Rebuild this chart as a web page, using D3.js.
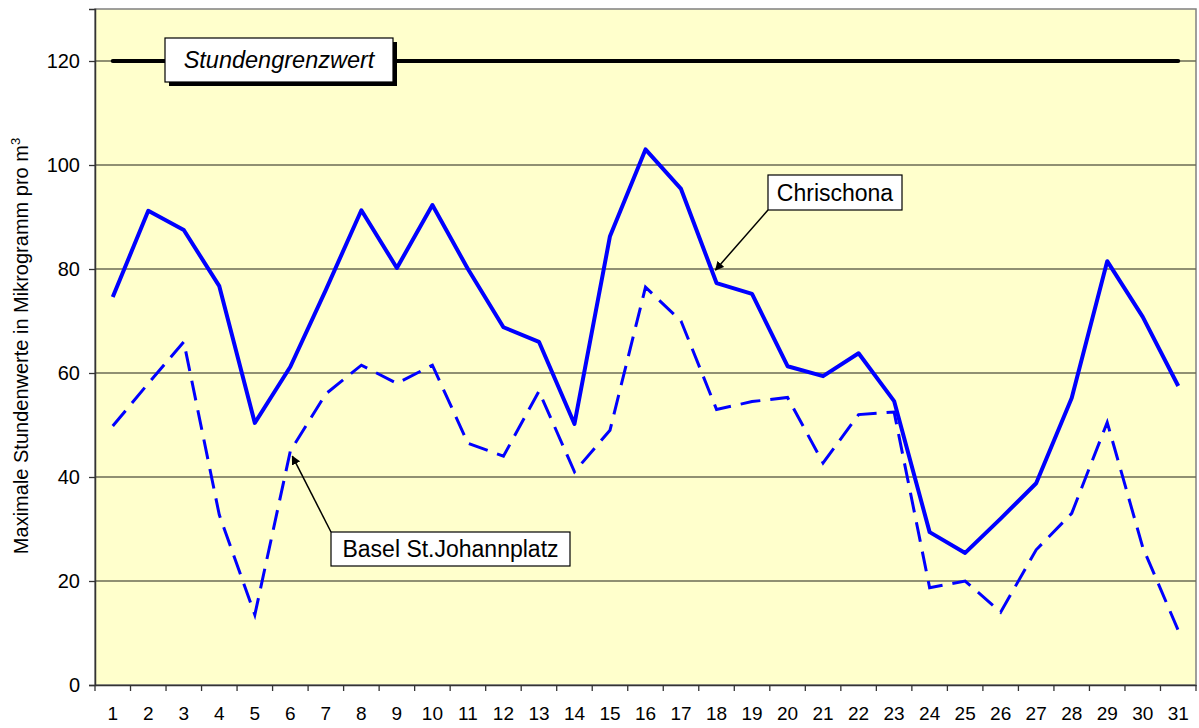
<!DOCTYPE html>
<html>
<head>
<meta charset="utf-8">
<script src="https://cdn.jsdelivr.net/npm/d3@7"></script>
<style>
  body { margin: 0; background: #fff; }
  text { font-family: "Liberation Sans", Arial, sans-serif; }
</style>
</head>
<body>
<script>
// data
let days = d3.range(1, 32)
let chrischona = [74.6, 91.2, 87.5, 76.7, 50.4, 61.2, 76, 91.3, 80.2, 92.3, 80, 68.8, 66, 50.2, 86.3, 103,
  95.4, 77.3, 75.2, 61.3, 59.4, 63.8, 54.6, 29.4, 25.4, 32, 38.8, 55.2, 81.5, 70.8, 57.5]
let johannplatz = [49.8, 58, 66, 32.7, 13.5, 45, 56, 61.5, 58, 61.5, 46.5, 44, 56.5, 41, 49, 76.5,
  70, 53, 54.5, 55.3, 42.7, 52, 52.5, 18.7, 20, 14, 26, 33, 50.5, 26.5, 10.5]
let grenzwert = 120
let yTicks = [0, 20, 40, 60, 80, 100, 120]

let width = 1199, height = 728
let margin = {left: 95, right: 3, top: 9, bottom: 43}

let svg = d3.select("body").append("svg")
  .attr("width", width)
  .attr("height", height)

let x = d3.scaleBand()
  .domain(days)
  .range([margin.left, width - margin.right])

let y = d3.scaleLinear()
  .domain([0, 130])
  .range([height - margin.bottom, margin.top])

let cx = d => x(d) + x.bandwidth() / 2

// plot background
svg.append("rect")
  .attr("x", margin.left)
  .attr("y", margin.top)
  .attr("width", width - margin.left - margin.right)
  .attr("height", height - margin.top - margin.bottom)
  .attr("fill", "#ffffcc")
  .attr("stroke", "#808080")
  .attr("stroke-width", 1.5)

// grid
svg.append("g")
  .selectAll("line")
  .data(yTicks.filter(d => d > 0))
  .enter()
  .append("line")
    .attr("x1", margin.left)
    .attr("x2", width - margin.right)
    .attr("y1", d => y(d))
    .attr("y2", d => y(d))
    .attr("stroke", "#6b6b55")
    .attr("stroke-width", 1.3)

// axes
let yAxis = svg.append("g")
  .attr("transform", `translate(${margin.left},0)`)
  .call(d3.axisLeft(y).tickValues(yTicks).tickSize(6).tickPadding(9))
yAxis.select(".domain").attr("stroke", "#333").attr("stroke-width", 1.5)
yAxis.selectAll(".tick line").attr("stroke", "#333").attr("stroke-width", 1.3)
yAxis.selectAll("text").attr("font-size", 20).attr("fill", "#000")
  .attr("font-family", "Liberation Sans, Arial, sans-serif")

let xAxis = svg.append("g")
  .attr("transform", `translate(0,${height - margin.bottom})`)
  .call(d3.axisBottom(x).tickSize(0).tickPadding(22))
xAxis.select(".domain").attr("stroke", "#333").attr("stroke-width", 1.5)
xAxis.selectAll("text").attr("font-size", 19).attr("fill", "#000")
  .attr("font-family", "Liberation Sans, Arial, sans-serif")

// x ticks between categories
svg.append("g")
  .selectAll("line")
  .data(days.concat([32]))
  .enter()
  .append("line")
    .attr("x1", d => d <= 31 ? x(d) : width - margin.right)
    .attr("x2", d => d <= 31 ? x(d) : width - margin.right)
    .attr("y1", height - margin.bottom)
    .attr("y2", height - margin.bottom + 6)
    .attr("stroke", "#333")
    .attr("stroke-width", 1.3)

// y axis title
svg.append("text")
  .attr("transform", `translate(28,346) rotate(-90)`)
  .attr("text-anchor", "middle")
  .attr("font-size", 20)
  .text("Maximale Stundenwerte in Mikrogramm pro m")
  .append("tspan")
    .attr("dy", -8)
    .attr("font-size", 13)
    .text("3")

// lines
let line = d3.line()
  .x((d, i) => cx(days[i]))
  .y(d => y(d))

svg.append("path")
  .datum(days.map(() => grenzwert))
  .attr("d", line)
  .attr("fill", "none")
  .attr("stroke", "#000")
  .attr("stroke-width", 4)
  .attr("stroke-linecap", "round")

svg.append("path")
  .datum(johannplatz)
  .attr("d", line)
  .attr("fill", "none")
  .attr("stroke", "#0000ff")
  .attr("stroke-width", 3)
  .attr("stroke-dasharray", "20,10")

svg.append("path")
  .datum(chrischona)
  .attr("d", line)
  .attr("fill", "none")
  .attr("stroke", "#0000ff")
  .attr("stroke-width", 4)
  .attr("stroke-linejoin", "round")

// arrow marker
svg.append("defs").append("marker")
  .attr("id", "arrow")
  .attr("viewBox", "0 0 10 10")
  .attr("refX", 9).attr("refY", 5)
  .attr("markerWidth", 6).attr("markerHeight", 6)
  .attr("orient", "auto")
  .append("path")
    .attr("d", "M0,0L10,5L0,10z")
    .attr("fill", "#000")

// labels
function label(text, bx, by, w, h, opts) {
  opts = opts || {}
  if (opts.shadow) {
    svg.append("rect")
      .attr("x", bx + 4).attr("y", by + 4)
      .attr("width", w).attr("height", h)
      .attr("fill", "#000")
  }
  svg.append("rect")
    .attr("x", bx).attr("y", by)
    .attr("width", w).attr("height", h)
    .attr("fill", "#fff")
    .attr("stroke", "#000")
    .attr("stroke-width", 1.2)
  svg.append("text")
    .attr("x", bx + w / 2)
    .attr("y", by + h / 2 + 8)
    .attr("text-anchor", "middle")
    .attr("font-size", opts.size || 23)
    .attr("font-style", opts.italic ? "italic" : "normal")
    .text(text)
}

// leader lines
svg.append("line")
  .attr("x1", 768).attr("y1", 210)
  .attr("x2", cx(18) - 1).attr("y2", y(80) + 1)
  .attr("stroke", "#000").attr("stroke-width", 1.5)
  .attr("marker-end", "url(#arrow)")

svg.append("line")
  .attr("x1", 331).attr("y1", 532)
  .attr("x2", cx(6) + 2).attr("y2", y(44))
  .attr("stroke", "#000").attr("stroke-width", 1.5)
  .attr("marker-end", "url(#arrow)")

label("Stundengrenzwert", 165, 38, 228, 44, {italic: true, shadow: true, size: 23.5})
label("Chrischona", 768, 175, 134, 35)
label("Basel St.Johannplatz", 331, 532, 239, 34)
</script>
</body>
</html>
